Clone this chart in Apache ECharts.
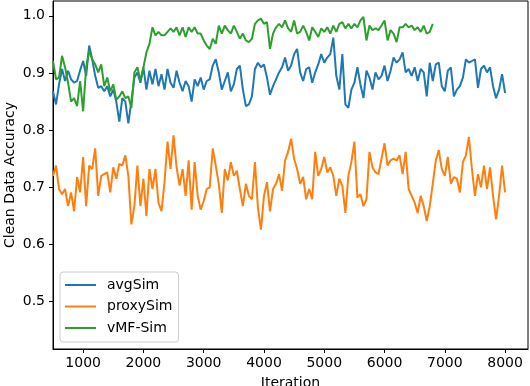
<!DOCTYPE html>
<html>
<head>
<meta charset="utf-8">
<script src="https://cdn.jsdelivr.net/npm/echarts@6/dist/echarts.min.js"></script>
<style>
  html, body { margin: 0; padding: 0; background: #fff; }
  #chart { width: 530px; height: 386px; }
</style>
</head>
<body>
<div id="chart"></div>
<script>
// iterations sampled along the curves
const iterations = [
  500, 550, 600, 650, 700, 750, 800, 850, 900, 950,
  1000, 1050, 1100, 1150, 1200, 1250, 1300, 1350, 1400, 1450,
  1500, 1550, 1600, 1650, 1700, 1750, 1800, 1850, 1900, 1950,
  2000, 2050, 2100, 2150, 2200, 2250, 2300, 2350, 2400, 2450,
  2500, 2550, 2600, 2650, 2700, 2750, 2800, 2850, 2900, 2950,
  3000, 3050, 3100, 3150, 3200, 3250, 3300, 3350, 3400, 3450,
  3500, 3550, 3600, 3650, 3700, 3750, 3800, 3850, 3900, 3950,
  4000, 4050, 4100, 4150, 4200, 4250, 4300, 4350, 4400, 4450,
  4500, 4550, 4600, 4650, 4700, 4750, 4800, 4850, 4900, 4950,
  5000, 5050, 5100, 5150, 5200, 5250, 5300, 5350, 5400, 5450,
  5500, 5550, 5600, 5650, 5700, 5750, 5800, 5850, 5900, 5950,
  6000, 6050, 6100, 6150, 6200, 6250, 6300, 6350, 6400, 6450,
  6500, 6550, 6600, 6650, 6700, 6750, 6800, 6850, 6900, 6950,
  7000, 7050, 7100, 7150, 7200, 7250, 7300, 7350, 7400, 7450,
  7500, 7550, 7600, 7650, 7700, 7750, 7800, 7850, 7900, 7950,
  8000
];

const avgSim = [
  0.868, 0.845, 0.880, 0.907, 0.886, 0.904, 0.889, 0.883, 0.886, 0.905,
  0.921, 0.895, 0.948, 0.924, 0.895, 0.874, 0.877, 0.868, 0.877, 0.859,
  0.871, 0.850, 0.815, 0.856, 0.850, 0.812, 0.850, 0.892, 0.901, 0.883,
  0.910, 0.871, 0.904, 0.880, 0.907, 0.877, 0.898, 0.871, 0.907, 0.883,
  0.874, 0.904, 0.883, 0.868, 0.886, 0.877, 0.850, 0.889, 0.877, 0.892,
  0.871, 0.886, 0.889, 0.913, 0.924, 0.901, 0.871, 0.886, 0.901, 0.868,
  0.880, 0.907, 0.913, 0.871, 0.842, 0.845, 0.859, 0.907, 0.918, 0.910,
  0.915, 0.892, 0.862, 0.877, 0.889, 0.901, 0.910, 0.927, 0.904, 0.913,
  0.933, 0.942, 0.901, 0.886, 0.907, 0.910, 0.883, 0.901, 0.915, 0.933,
  0.918, 0.927, 0.933, 0.962, 0.895, 0.871, 0.933, 0.845, 0.839, 0.871,
  0.883, 0.910, 0.880, 0.856, 0.904, 0.892, 0.871, 0.901, 0.889, 0.895,
  0.913, 0.886, 0.904, 0.927, 0.918, 0.924, 0.936, 0.901, 0.907, 0.895,
  0.910, 0.886, 0.907, 0.901, 0.859, 0.918, 0.886, 0.915, 0.918, 0.877,
  0.868, 0.904, 0.910, 0.859, 0.871, 0.877, 0.892, 0.924, 0.918, 0.921,
  0.924, 0.874, 0.907, 0.913, 0.901, 0.910, 0.877, 0.856, 0.871, 0.898,
  0.865
];

const proxySim = [
  0.720, 0.738, 0.697, 0.688, 0.697, 0.667, 0.691, 0.658, 0.718, 0.691,
  0.753, 0.667, 0.738, 0.732, 0.768, 0.685, 0.720, 0.723, 0.726, 0.691,
  0.735, 0.715, 0.741, 0.738, 0.756, 0.720, 0.635, 0.667, 0.738, 0.667,
  0.715, 0.650, 0.732, 0.697, 0.732, 0.673, 0.658, 0.709, 0.780, 0.732,
  0.791, 0.735, 0.703, 0.732, 0.685, 0.747, 0.661, 0.744, 0.685, 0.661,
  0.676, 0.697, 0.700, 0.768, 0.738, 0.706, 0.655, 0.732, 0.712, 0.744,
  0.720, 0.729, 0.697, 0.667, 0.706, 0.685, 0.679, 0.744, 0.664, 0.626,
  0.685, 0.709, 0.658, 0.697, 0.706, 0.723, 0.694, 0.747, 0.762, 0.785,
  0.750, 0.732, 0.706, 0.718, 0.679, 0.697, 0.679, 0.762, 0.720, 0.732,
  0.753, 0.726, 0.735, 0.720, 0.685, 0.715, 0.703, 0.655, 0.720, 0.744,
  0.780, 0.682, 0.688, 0.667, 0.679, 0.762, 0.735, 0.726, 0.723, 0.750,
  0.777, 0.738, 0.747, 0.750, 0.747, 0.756, 0.723, 0.762, 0.697, 0.685,
  0.673, 0.655, 0.685, 0.667, 0.641, 0.667, 0.706, 0.747, 0.765, 0.732,
  0.720, 0.753, 0.706, 0.718, 0.715, 0.691, 0.744, 0.756, 0.788, 0.732,
  0.685, 0.723, 0.700, 0.738, 0.697, 0.735, 0.685, 0.644, 0.685, 0.738,
  0.691
];

// vMF-Sim stops at 6800
const vmfSim = [
  0.921, 0.889, 0.892, 0.930, 0.910, 0.883, 0.850, 0.856, 0.842, 0.886,
  0.833, 0.910, 0.939, 0.924, 0.915, 0.901, 0.915, 0.877, 0.892, 0.868,
  0.880, 0.853, 0.859, 0.868, 0.856, 0.859, 0.839, 0.901, 0.910, 0.886,
  0.910, 0.936, 0.951, 0.980, 0.966, 0.972, 0.966, 0.966, 0.972, 0.978,
  0.972, 0.980, 0.966, 0.980, 0.963, 0.980, 0.972, 0.980, 0.969, 0.969,
  0.957, 0.948, 0.942, 0.960, 0.951, 0.983, 0.969, 0.983, 0.975, 0.969,
  0.983, 0.972, 0.960, 0.969, 0.957, 0.954, 0.960, 0.986, 0.992, 0.995,
  0.986, 0.989, 0.942, 0.969, 0.980, 0.986, 0.980, 0.992, 0.978, 0.972,
  0.992, 0.969, 0.972, 0.983, 0.972, 0.957, 0.980, 0.972, 0.963, 0.978,
  0.972, 0.980, 0.969, 0.983, 0.972, 0.986, 0.989, 0.978, 0.986, 0.978,
  0.986, 0.980, 0.992, 0.998, 0.957, 0.983, 0.975, 0.978, 0.975, 0.983,
  0.992, 0.957, 0.975, 0.969, 0.954, 0.980, 0.980, 0.986, 0.980, 0.983,
  0.975, 0.980, 0.972, 0.983, 0.969, 0.972, 0.986
];

const xTicks = [1000, 2000, 3000, 4000, 5000, 6000, 7000, 8000];
const yTicks = [0.5, 0.6, 0.7, 0.8, 0.9, 1.0];

function pairs(ys) {
  return ys.map((v, i) => [iterations[i], v]);
}

const font = "'DejaVu Sans', sans-serif";
const chart = echarts.init(document.getElementById('chart'), null, { renderer: 'canvas' });

chart.setOption({
  animation: false,
  textStyle: { fontFamily: font },
  grid: {
    left: 53, right: 2, top: 1, bottom: 37,
    containLabel: false,
    outerBoundsMode: 'none',
    show: true, borderColor: '#000', borderWidth: 1
  },
  legend: {
    orient: 'vertical',
    left: 60, top: 272,
    icon: 'rect',
    itemWidth: 31, itemHeight: 2,
    itemGap: 7.5,
    padding: [6, 6, 7, 5],
    backgroundColor: 'rgba(255,255,255,0.8)',
    borderColor: '#cccccc', borderWidth: 1, borderRadius: 3,
    textStyle: { fontFamily: font, fontSize: 14, color: '#000', lineHeight: 14, padding: [0, 0, 0, 6] },
    data: ['avgSim', 'proxySim', 'vMF-Sim']
  },
  xAxis: {
    type: 'value',
    min: 500, max: 8380,
    name: 'Iteration',
    nameLocation: 'middle',
    nameGap: 27,
    nameTextStyle: { fontFamily: font, fontSize: 14, color: '#000' },
    axisLine: { show: true, onZero: false, lineStyle: { color: '#000', width: 1 } },
    axisTick: { show: true, length: 4, lineStyle: { color: '#000' }, customValues: xTicks },
    axisLabel: {
      fontFamily: font, fontSize: 14, color: '#000', margin: 7,
      customValues: xTicks,
      formatter: v => String(v)
    },
    splitLine: { show: false }
  },
  yAxis: {
    type: 'value',
    min: 0.417, max: 1.026,
    name: 'Clean Data Accuracy',
    nameLocation: 'middle',
    nameGap: 36,
    nameMoveOverlap: false,
    nameTextStyle: { fontFamily: font, fontSize: 14, color: '#000' },
    axisLine: { show: true, lineStyle: { color: '#000', width: 1 } },
    axisTick: { show: true, length: 4, lineStyle: { color: '#000' }, customValues: yTicks },
    axisLabel: {
      fontFamily: font, fontSize: 14, color: '#000', margin: 8,
      customValues: yTicks,
      formatter: v => v.toFixed(1)
    },
    splitLine: { show: false }
  },
  series: [
    { name: 'avgSim', type: 'line', data: pairs(avgSim), showSymbol: false, symbol: 'none',
      color: '#1f77b4', lineStyle: { width: 2 } },
    { name: 'proxySim', type: 'line', data: pairs(proxySim), showSymbol: false, symbol: 'none',
      color: '#ff7f0e', lineStyle: { width: 2 } },
    { name: 'vMF-Sim', type: 'line', data: pairs(vmfSim), showSymbol: false, symbol: 'none',
      color: '#2ca02c', lineStyle: { width: 2 } }
  ]
});
</script>
</body>
</html>
